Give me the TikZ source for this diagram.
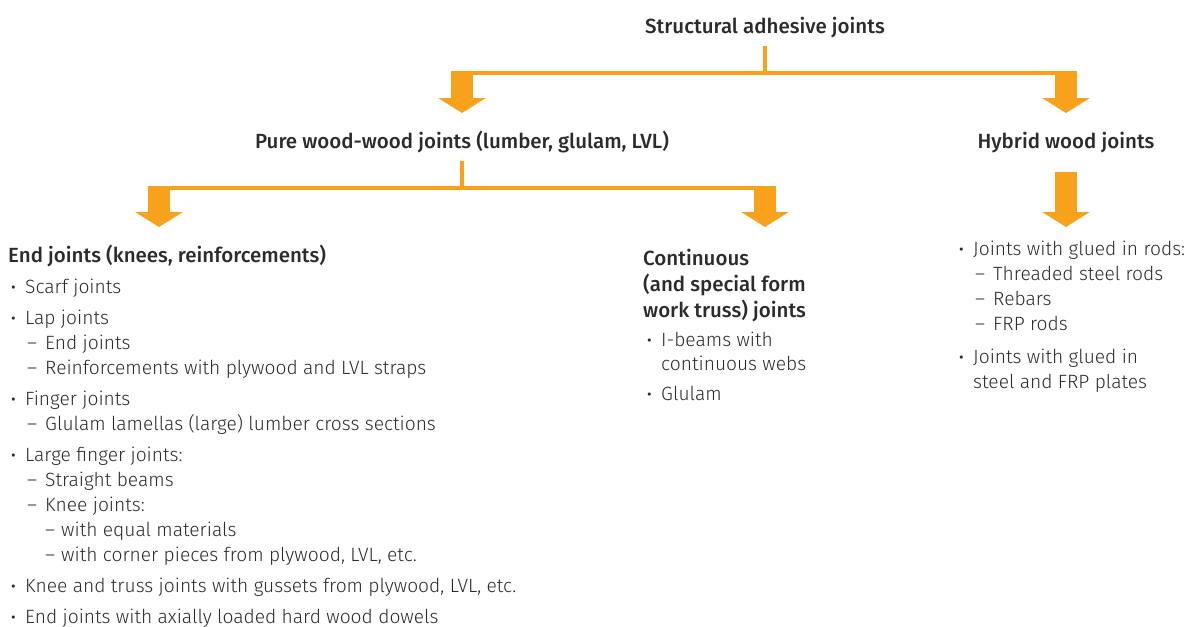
\documentclass[tikz,border=0pt]{standalone}
\usepackage{fontspec}
\setmainfont{Fira Sans}[UprightFont=* Light, BoldFont=* Medium]
\usetikzlibrary{arrows.meta}
\definecolor{jointorange}{HTML}{F8A21C}
\definecolor{jointtext}{HTML}{2B2B2B}

% list markers
\newcommand{\bitem}{\makebox[16pt][l]{\hspace{2pt}\textbf{·}}}
\newcommand{\ditem}{\hspace*{18pt}\makebox[18pt][l]{–}}
\newcommand{\dditem}{\hspace*{36pt}\makebox[16pt][l]{–}}

\tikzset{
  head/.style={font=\fontsize{20.5}{26}\selectfont\bfseries, text=jointtext, inner sep=0pt},
  list/.style={font=\fontsize{19.2}{25}\selectfont, text=jointtext, align=left,
    anchor=north west, inner sep=0pt},
  bus/.style={draw=jointorange, line width=3.5pt},
  drop/.style={draw=jointorange, line width=22pt, -{Triangle[width=47pt,length=15pt]}},
}

\begin{document}
\begin{tikzpicture}[x=1pt,y=-1pt]
\useasboundingbox (0,0) rectangle (1190,626);

% headings
\node[head, anchor=base] (root) at (765,34) {Structural adhesive joints};
\node[head, anchor=base] (pure) at (462,148) {Pure wood-wood joints (lumber, glulam, LVL)};
\node[head, anchor=base] (hybrid) at (1066,148) {Hybrid wood joints};
\node[head, anchor=base west] (endhead) at (8,262) {End joints (knees, reinforcements)};
\node[head, align=left, anchor=north west] (conthead) at (643,246.8)
  {\strut Continuous\\(and special form\\work truss) joints};

% lists
\node[list] (endlist) at (9,275.5) {\strut\bitem Scarf joints\\[6pt]
  \bitem Lap joints\\
  \ditem End joints\\
  \ditem Reinforcements with plywood and LVL straps\\[6pt]
  \bitem Finger joints\\
  \ditem Glulam lamellas (large) lumber cross sections\\[6pt]
  \bitem Large finger joints:\\
  \ditem Straight beams\\
  \ditem Knee joints:\\
  \dditem with equal materials\\
  \dditem with corner pieces from plywood, LVL, etc.\\[6pt]
  \bitem Knee and truss joints with gussets from plywood, LVL, etc.\\[6pt]
  \bitem End joints with axially loaded hard wood dowels};
\node[list, font=\fontsize{19.2}{24}\selectfont] (contlist) at (645,329.9)
  {\strut\bitem I-beams with\\
  \hspace*{16pt}continuous webs\\[6pt]
  \bitem Glulam};
\node[list] (hybridlist) at (957,237.5) {\strut\bitem Joints with glued in rods:\\
  \ditem Threaded steel rods\\
  \ditem Rebars\\
  \ditem FRP rods\\[8pt]
  \bitem Joints with glued in\\
  \hspace*{16pt}steel and FRP plates};

% first level
\coordinate (endtop) at (159,227);
\coordinate (conttop) at (765,227);
\draw[bus] (root |- 0,46) -- (root |- 0,73);
\draw[bus] (pure |- 0,73) -- (hybrid |- 0,73);
\draw[drop] (pure |- 0,71) -- (pure |- 0,113);
\draw[drop] (hybrid |- 0,71) -- (hybrid |- 0,113);

% second level
\draw[bus] (pure |- 0,161) -- (pure |- 0,188);
\draw[bus] (endtop |- 0,188) -- (conttop |- 0,188);
\draw[drop] (endtop |- 0,186) -- (endtop);
\draw[drop] (conttop |- 0,186) -- (conttop);
\draw[drop] (hybrid |- 0,172) -- (hybrid |- 0,227);
\end{tikzpicture}
\end{document}
